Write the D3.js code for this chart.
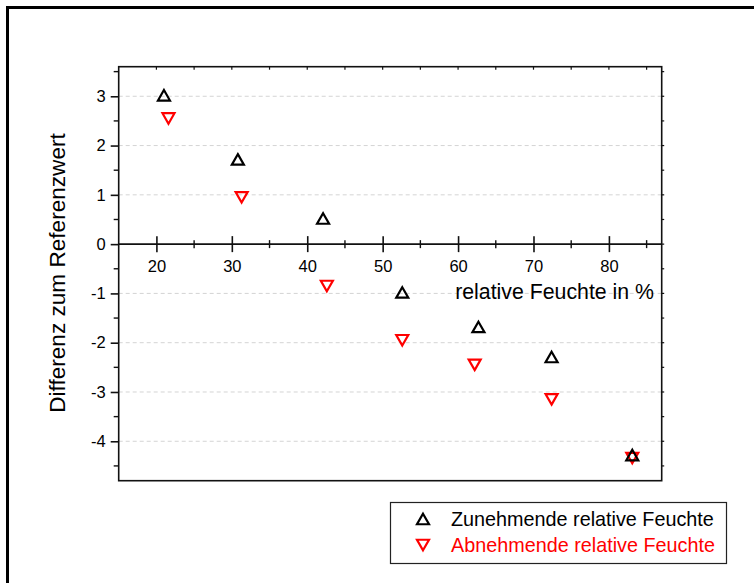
<!DOCTYPE html>
<html><head><meta charset="utf-8">
<script src="https://cdn.jsdelivr.net/npm/d3@7"></script>
<style>
html,body{margin:0;padding:0;background:#fff;}
svg{display:block;font-family:"Liberation Sans",Arial,sans-serif;}
</style></head>
<body>
<svg id="chart" width="754" height="583"></svg>
<script>
// Data
const humidityUp = [21.0, 30.8, 42.1, 52.6, 62.7, 72.4, 83.1];
const diffUp = [3.02, 1.72, 0.52, -0.98, -1.68, -2.29, -4.28];
const humidityDown = [21.6, 31.3, 42.6, 52.6, 62.2, 72.4, 83.1];
const diffDown = [2.55, 0.95, -0.85, -1.95, -2.45, -3.15, -4.34];
const seriesNames = ["Zunehmende relative Feuchte", "Abnehmende relative Feuchte"];
const xTicks = [20, 30, 40, 50, 60, 70, 80];
const yTicks = [3, 2, 1, 0, -1, -2, -3, -4];
const xLabel = "relative Feuchte in %";
const yLabel = "Differenz zum Referenzwert";

const svg = d3.select("#chart");
const L = 118.7, R = 661.7, T = 66.7, B = 480.7;
const x = d3.scaleLinear().domain([15, 87]).range([L, R]);
const y = d3.scaleLinear().domain([3.6, -4.8]).range([T, B]);
const fmt = d => String(d);

// outer frame
svg.append("rect").attr("x", 7.5).attr("y", 7.5).attr("width", 800).attr("height", 700)
  .attr("fill", "none").attr("stroke", "#000").attr("stroke-width", 3);

// gridlines
svg.append("g").selectAll("line").data(yTicks.filter(d => d !== 0)).join("line")
  .attr("x1", L).attr("x2", R).attr("y1", d => y(d)).attr("y2", d => y(d))
  .attr("stroke", "#d4d4d4").attr("stroke-width", 1).attr("stroke-dasharray", "4,3");

// plot border
svg.append("rect").attr("x", L).attr("y", T).attr("width", R - L).attr("height", B - T)
  .attr("fill", "none").attr("stroke", "#111").attr("stroke-width", 1.6);

// minor ticks on top and right (small)
const xAll = d3.range(15, 87.01, 5).filter(v => v > 15);
svg.append("g").selectAll("line").data(xAll).join("line")
  .attr("x1", d => x(d)).attr("x2", d => x(d)).attr("y1", T).attr("y2", T + 3)
  .attr("stroke", "#111").attr("stroke-width", 1.2);
const yAll = d3.range(-4.5, 3.51, 0.5);
svg.append("g").selectAll("line").data(yAll).join("line")
  .attr("x1", R).attr("x2", R + 2.5).attr("y1", d => y(d)).attr("y2", d => y(d))
  .attr("stroke", "#111").attr("stroke-width", 1.2);

// left axis
const yAxis = d3.axisLeft(y).tickValues(yTicks).tickSize(8).tickPadding(5).tickFormat(fmt);
const gy = svg.append("g").attr("transform", `translate(${L},0)`).call(yAxis);
gy.select(".domain").remove();
gy.selectAll(".tick line").attr("stroke", "#111").attr("stroke-width", 1.6);
gy.selectAll(".tick text").attr("font-size", 16.5).attr("fill", "#000")
  .attr("font-family", "Liberation Sans, Arial, sans-serif");
// y minor
svg.append("g").selectAll("line").data(yAll.filter(v => !Number.isInteger(v))).join("line")
  .attr("x1", L - 5).attr("x2", L).attr("y1", d => y(d)).attr("y2", d => y(d))
  .attr("stroke", "#111").attr("stroke-width", 1.4);

// zero axis line with crossing ticks
svg.append("line").attr("x1", L).attr("x2", R).attr("y1", y(0)).attr("y2", y(0))
  .attr("stroke", "#111").attr("stroke-width", 1.6);
const xAxis = d3.axisBottom(x).tickValues(xTicks).tickSize(8).tickPadding(8).tickFormat(fmt);
const gx = svg.append("g").attr("transform", `translate(0,${y(0)})`).call(xAxis);
gx.select(".domain").remove();
gx.selectAll(".tick line").attr("y1", -8).attr("stroke", "#111").attr("stroke-width", 1.6);
gx.selectAll(".tick text").attr("font-size", 16.5).attr("fill", "#000")
  .attr("font-family", "Liberation Sans, Arial, sans-serif");
const xMinor = xAll.filter(v => v % 10 !== 0);
svg.append("g").selectAll("line").data(xMinor).join("line")
  .attr("x1", d => x(d)).attr("x2", d => x(d)).attr("y1", y(0) - 4).attr("y2", y(0) + 4)
  .attr("stroke", "#111").attr("stroke-width", 1.4);

// labels
svg.append("text").attr("x", 654).attr("y", 299).attr("text-anchor", "end")
  .attr("font-size", 21.3).text(xLabel);
svg.append("text").attr("transform", `translate(65,273) rotate(-90)`).attr("text-anchor", "middle")
  .attr("font-size", 22.6).text(yLabel);

// markers
const tri = (w, h, up) => up
  ? `M0,${-h/2}L${w/2},${h/2}L${-w/2},${h/2}Z`
  : `M0,${h/2}L${w/2},${-h/2}L${-w/2},${-h/2}Z`;
const upData = humidityUp.map((h, i) => [h, diffUp[i]]);
const downData = humidityDown.map((h, i) => [h, diffDown[i]]);
svg.append("g").selectAll("path").data(downData).join("path")
  .attr("transform", d => `translate(${x(d[0])},${y(d[1])})`)
  .attr("d", tri(12, 10.5, false)).attr("fill", "none").attr("stroke", "#ff0000").attr("stroke-width", 2.2);
svg.append("g").selectAll("path").data(upData).join("path")
  .attr("transform", d => `translate(${x(d[0])},${y(d[1])})`)
  .attr("d", tri(12, 10.5, true)).attr("fill", "none").attr("stroke", "#000").attr("stroke-width", 2.2);

// legend
svg.append("rect").attr("x", 390.5).attr("y", 502.5).attr("width", 336).attr("height", 61)
  .attr("fill", "#fff").attr("stroke", "#222").attr("stroke-width", 1.2);
const legendColors = ["#000", "#ff0000"];
const legendUp = [true, false];
const lg = svg.append("g").selectAll("g").data(seriesNames).join("g")
  .attr("transform", (d, i) => `translate(423,${519 + i * 26})`);
lg.append("path").attr("d", (d, i) => tri(12, 10.5, legendUp[i])).attr("fill", "none")
  .attr("stroke", (d, i) => legendColors[i]).attr("stroke-width", 2.2);
lg.append("text").attr("x", 28).attr("y", 7).attr("font-size", 19.8)
  .attr("fill", (d, i) => legendColors[i]).text(d => d);
</script>
</body></html>
